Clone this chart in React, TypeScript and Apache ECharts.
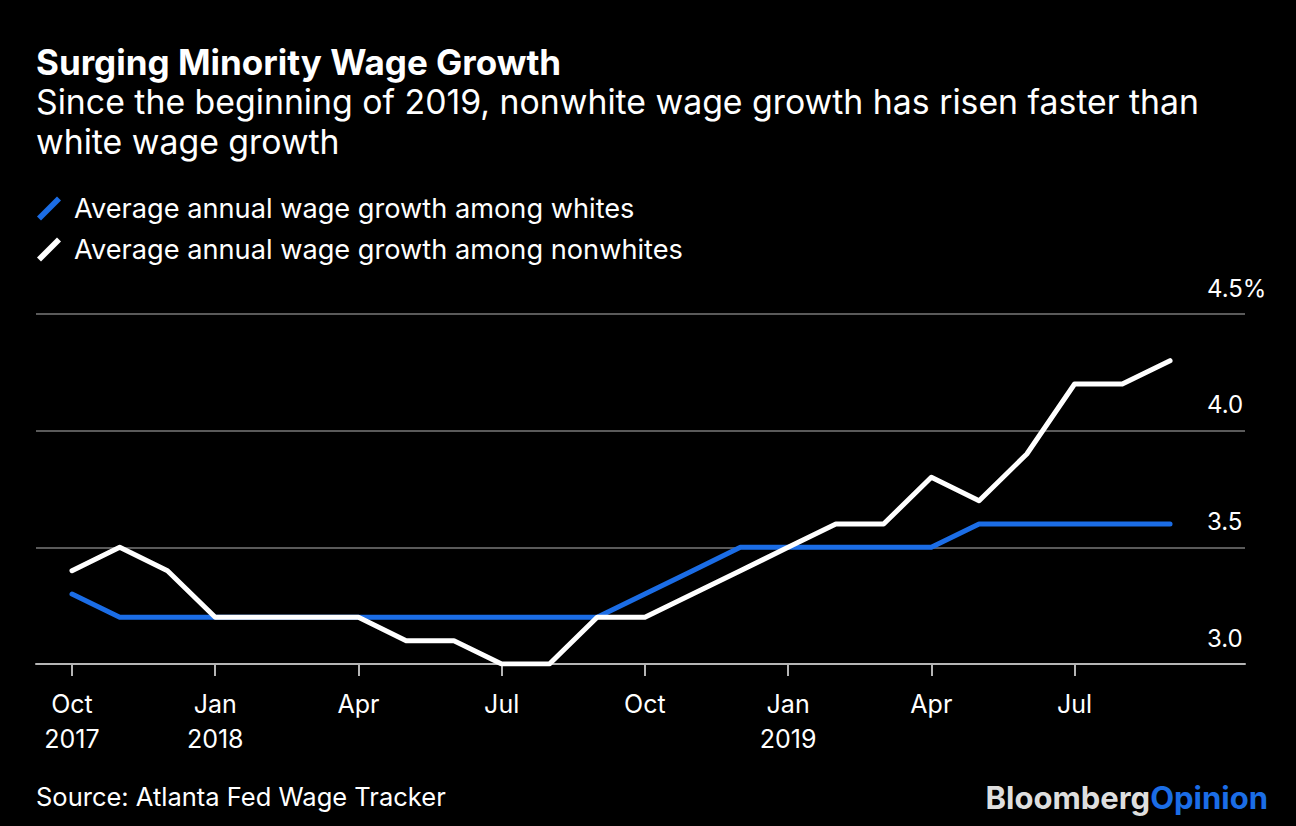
import React, { useEffect, useRef } from "react";
import * as echarts from "echarts";

const months = [
  "Oct 2017", "Nov 2017", "Dec 2017", "Jan 2018", "Feb 2018", "Mar 2018",
  "Apr 2018", "May 2018", "Jun 2018", "Jul 2018", "Aug 2018", "Sep 2018",
  "Oct 2018", "Nov 2018", "Dec 2018", "Jan 2019", "Feb 2019", "Mar 2019",
  "Apr 2019", "May 2019", "Jun 2019", "Jul 2019", "Aug 2019", "Sep 2019",
];
const whites = [
  3.3, 3.2, 3.2, 3.2, 3.2, 3.2, 3.2, 3.2, 3.2, 3.2, 3.2, 3.2,
  3.3, 3.4, 3.5, 3.5, 3.5, 3.5, 3.5, 3.6, 3.6, 3.6, 3.6, 3.6,
];
const nonwhites = [
  3.4, 3.5, 3.4, 3.2, 3.2, 3.2, 3.2, 3.1, 3.1, 3.0, 3.0, 3.2,
  3.2, 3.3, 3.4, 3.5, 3.6, 3.6, 3.8, 3.7, 3.9, 4.2, 4.2, 4.3,
];
const tickIndices = [0, 3, 6, 9, 12, 15, 18, 21];
const tickLabels = ["Oct\n2017", "Jan\n2018", "Apr", "Jul", "Oct", "Jan\n2019", "Apr", "Jul"];
const yTicks = [3.0, 3.5, 4.0, 4.5];

const title = "Surging Minority Wage Growth";
const subtitle = "Since the beginning of 2019, nonwhite wage growth has risen faster than\nwhite wage growth";
const seriesNames = [
  "Average annual wage growth among whites",
  "Average annual wage growth among nonwhites",
];
const source = "Source: Atlanta Fed Wage Tracker";

const BLUE = "#1b6de6";
const FONT = "Inter, 'Liberation Sans', Arial, sans-serif";

export default function App() {
  const ref = useRef<HTMLDivElement>(null);
  useEffect(() => {
    document.body.style.margin = "0";
    document.body.style.background = "#000";
    const chart = echarts.init(ref.current!, null, { renderer: "svg" });
    const slash = "path://M0,20 L20,0 L24,4 L4,24 Z";
    chart.setOption({
      animation: false,
      backgroundColor: "#000000",
      textStyle: { fontFamily: FONT },
      title: [
        {
          text: title,
          left: 36,
          top: 44,
          padding: 0,
          textStyle: { color: "#fff", fontSize: 35, fontWeight: "bold", fontFamily: FONT },
        },
        {
          text: subtitle,
          left: 36,
          top: 81,
          padding: 0,
          textStyle: { color: "#fff", fontSize: 33.8, fontWeight: "normal", lineHeight: 40, fontFamily: FONT },
        },
        {
          text: source,
          left: 36,
          top: 783,
          padding: 0,
          textStyle: { color: "#fff", fontSize: 25.5, fontWeight: "normal", fontFamily: FONT },
        },
        {
          text: "{b|Bloomberg}{o|Opinion}",
          right: 28,
          top: 782,
          padding: 0,
          textStyle: {
            rich: {
              b: { color: "#dedede", fontSize: 31, fontWeight: "bold", fontFamily: FONT },
              o: { color: BLUE, fontSize: 31, fontWeight: "bold", fontFamily: FONT },
            },
          },
        },
      ],
      legend: {
        orient: "vertical",
        left: 37,
        top: 195,
        padding: 0,
        itemGap: 14,
        itemWidth: 24,
        itemHeight: 24,
        icon: slash,
        textStyle: { color: "#fff", fontSize: 27.2, fontFamily: FONT, padding: [0, 0, 0, 8] },
        data: [
          { name: seriesNames[0], itemStyle: { color: BLUE } },
          { name: seriesNames[1], itemStyle: { color: "#fff" } },
        ],
      },
      grid: { left: 36, right: 51, top: 314, bottom: 162, containLabel: false },
      xAxis: {
        type: "value",
        min: -0.754,
        max: 24.57,
        splitLine: { show: false },
        axisLine: { show: true, onZero: false, lineStyle: { color: "#b5b5b5", width: 2 } },
        axisTick: {
          show: true,
          customValues: tickIndices,
          length: 12,
          lineStyle: { color: "#b5b5b5", width: 2 },
        },
        axisLabel: {
          customValues: tickIndices,
          color: "#fff",
          fontSize: 25,
          lineHeight: 35,
          margin: 22,
          fontFamily: FONT,
          formatter: (v: number) => {
            const k = tickIndices.indexOf(Math.round(v));
            return k >= 0 ? tickLabels[k] : "";
          },
        },
      },
      yAxis: {
        type: "value",
        position: "right",
        min: 3.0,
        max: 4.5,
        interval: 0.5,
        axisLine: { show: false },
        axisTick: { show: false },
        splitLine: { show: true, lineStyle: { color: "#5a5a5a", width: 2 } },
        axisLabel: {
          inside: true,
          align: "left",
          verticalAlign: "bottom",
          margin: 38,
          padding: [0, 0, 14, 0],
          color: "#fff",
          fontSize: 24,
          fontFamily: FONT,
          customValues: yTicks,
          formatter: (v: number) => (v === 4.5 ? "4.5%" : v.toFixed(1)),
        },
      },
      series: [
        {
          name: seriesNames[0],
          type: "line",
          data: months.map((_, i) => [i, whites[i]]),
          showSymbol: false,
          lineStyle: { color: BLUE, width: 5, cap: "round", join: "round" },
          itemStyle: { color: BLUE },
          z: 2,
        },
        {
          name: seriesNames[1],
          type: "line",
          data: months.map((_, i) => [i, nonwhites[i]]),
          showSymbol: false,
          lineStyle: { color: "#fff", width: 5, cap: "round", join: "round" },
          itemStyle: { color: "#fff" },
          z: 3,
        },
      ],
    });
    return () => chart.dispose();
  }, []);
  return <div ref={ref} style={{ width: 1296, height: 826 }} />;
}
